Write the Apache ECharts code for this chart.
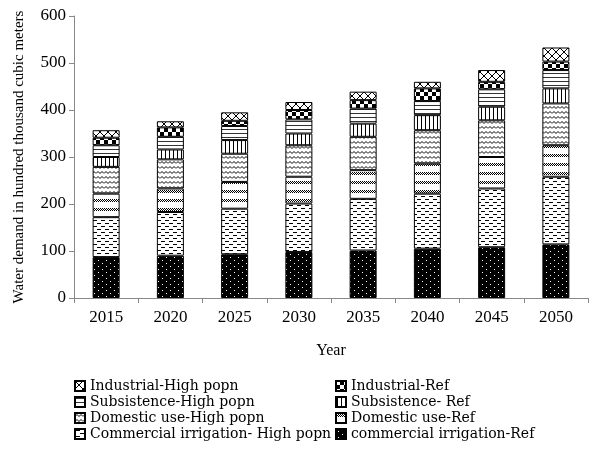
<!DOCTYPE html>
<html>
<head>
<meta charset="utf-8">
<script src="https://cdn.jsdelivr.net/npm/echarts@6/dist/echarts.min.js"></script>
<style>
  html, body { margin: 0; padding: 0; background: #fff; }
  #chart { width: 593px; height: 450px; }
</style>
</head>
<body>
<div id="chart"></div>
<script>
var years = ['2015', '2020', '2025', '2030', '2035', '2040', '2045', '2050'];

// segment heights, bottom to top
var commRef  = [87, 90, 93, 98, 101, 105, 108, 114];
var commHigh = [85, 93, 97, 103, 110, 117, 125, 144];
var domRef   = [50, 50, 57, 57, 61, 64, 67, 67];
var domHigh  = [57, 62, 60, 67, 71, 71, 78, 89];
var subRef   = [21, 21, 29, 25, 28, 32, 29, 32];
var subHigh  = [25, 27, 30, 30, 32, 30, 37, 39];
var indRef   = [16, 20, 11, 20, 18, 27, 16, 18];
var indHigh  = [16, 13, 18, 17, 18, 14, 25, 30];

var yTicks = [0, 100, 200, 300, 400, 500, 600];

// little canvas tiles used as fill patterns
function tile(w, h, draw) {
  var c = document.createElement('canvas');
  c.width = w; c.height = h;
  var g = c.getContext('2d');
  g.fillStyle = '#fff';
  g.fillRect(0, 0, w, h);
  draw(g);
  return { image: c, repeat: 'repeat' };
}

var patDots = tile(8, 6, function (g) {
  g.fillStyle = '#000'; g.fillRect(0, 0, 8, 6);
  g.fillStyle = '#fff'; g.fillRect(2, 2, 1, 1); g.fillRect(6, 5, 1, 1);
});
var patDash = tile(8, 6, function (g) {
  g.fillStyle = '#000'; g.fillRect(1, 1, 4, 1); g.fillRect(5, 4, 3, 1); g.fillRect(0, 4, 1, 1);
});
var patDiag = tile(8, 9, function (g) {
  g.strokeStyle = '#000'; g.lineWidth = 1;
  g.beginPath();
  for (var x = -4; x < 12; x += 2) { g.moveTo(x, 4); g.lineTo(x + 3, 1); }
  g.stroke();
});
var patWave = tile(8, 5, function (g) {
  g.strokeStyle = '#000'; g.lineWidth = 1;
  g.beginPath();
  g.moveTo(0, 3.5); g.lineTo(2, 1.5); g.lineTo(4, 3.5); g.lineTo(6, 1.5); g.lineTo(8, 3.5);
  g.stroke();
});
var patVert = tile(4, 4, function (g) {
  g.fillStyle = '#000'; g.fillRect(1, 0, 1, 4);
});
var patHorz = tile(4, 4, function (g) {
  g.fillStyle = '#333'; g.fillRect(0, 1, 4, 1);
});
var patCheck = tile(8, 8, function (g) {
  g.fillStyle = '#000'; g.fillRect(0, 0, 8, 8);
  g.fillStyle = '#fff'; g.fillRect(0, 0, 4, 4); g.fillRect(4, 4, 4, 4);
});
var patCross = tile(8, 8, function (g) {
  g.strokeStyle = '#000'; g.lineWidth = 1;
  g.beginPath();
  g.moveTo(0, 0); g.lineTo(8, 8); g.moveTo(8, 0); g.lineTo(0, 8);
  g.stroke();
});

function seg(name, data, pat) {
  return {
    name: name,
    type: 'bar',
    stack: 'total',
    barWidth: 27,
    data: data,
    itemStyle: { color: pat, borderColor: '#000', borderWidth: 1 }
  };
}

var serif = 'Liberation Serif';
var legendText = { fontFamily: 'DejaVu Serif', fontSize: 14, color: '#000', lineHeight: 16 };
var chart = echarts.init(document.getElementById('chart'));
chart.setOption({
  animation: false,
  backgroundColor: '#fff',
  grid: { left: 74, right: 5, top: 16, bottom: 152 },
  legend: [
    {
      orient: 'vertical', left: 74, top: 378, itemGap: 0, padding: 0, height: 70,
      itemWidth: 10, itemHeight: 10, icon: 'rect',
      textStyle: legendText,
      data: ['Industrial-High popn', 'Subsistence-High popn', 'Domestic use-High popn', 'Commercial irrigation- High popn']
    },
    {
      orient: 'vertical', left: 335, top: 378, itemGap: 0, padding: 0, height: 70,
      itemWidth: 10, itemHeight: 10, icon: 'rect',
      textStyle: legendText,
      data: ['Industrial-Ref', 'Subsistence- Ref', 'Domestic use-Ref', 'commercial irrigation-Ref']
    }
  ],
  xAxis: {
    type: 'category',
    data: years,
    name: 'Year',
    nameLocation: 'middle',
    nameGap: 45,
    nameTextStyle: { fontFamily: serif, fontSize: 16, color: '#000' },
    axisLine: { lineStyle: { color: '#888' } },
    axisTick: { show: true, length: 5, lineStyle: { color: '#888' } },
    axisLabel: { fontFamily: serif, fontSize: 17, color: '#000', margin: 11 }
  },
  yAxis: {
    type: 'value',
    min: yTicks[0],
    max: yTicks[yTicks.length - 1],
    interval: 100,
    name: 'Water demand in hundred thousand cubic meters',
    nameLocation: 'middle',
    nameGap: 47,
    nameTextStyle: { fontFamily: serif, fontSize: 15, color: '#000' },
    axisLine: { show: true, lineStyle: { color: '#888' } },
    axisTick: { show: true, length: 5, lineStyle: { color: '#888' } },
    splitLine: { show: false },
    axisLabel: { fontFamily: serif, fontSize: 17, color: '#000', margin: 8 }
  },
  series: [
    seg('commercial irrigation-Ref', commRef, patDots),
    seg('Commercial irrigation- High popn', commHigh, patDash),
    seg('Domestic use-Ref', domRef, patDiag),
    seg('Domestic use-High popn', domHigh, patWave),
    seg('Subsistence- Ref', subRef, patVert),
    seg('Subsistence-High popn', subHigh, patHorz),
    seg('Industrial-Ref', indRef, patCheck),
    seg('Industrial-High popn', indHigh, patCross)
  ]
});
</script>
</body>
</html>
